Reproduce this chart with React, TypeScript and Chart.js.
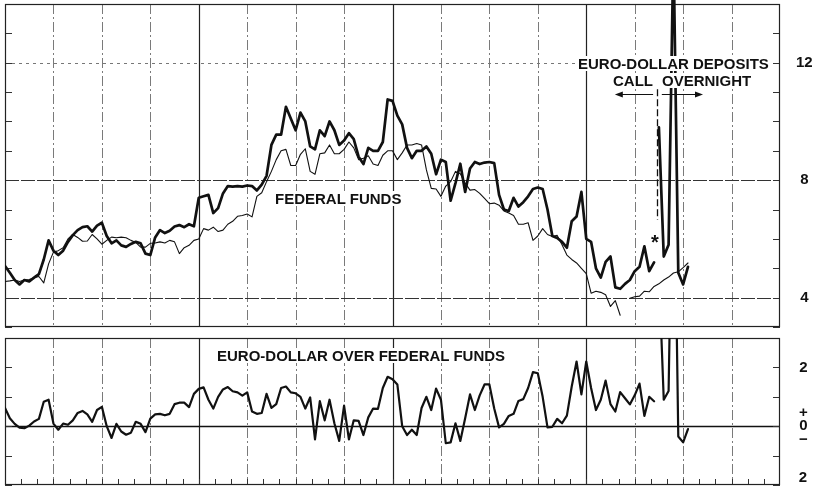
import React, { useEffect, useRef } from 'react';
import { Chart, registerables } from 'chart.js';

Chart.register(...registerables);

// ---------------- data ----------------
const MONTHS = 16;            // span of the time axis (months)
const STEP = 0.1;             // months between successive readings
const HEAVY_MONTHS = [4, 8, 12];
const TOP_MIN = 3;
const TOP_MAX = 14;
const TOP_LABELS = [4, 8, 12];
const BOTTOM_MIN = -2;
const BOTTOM_MAX = 3;
const CALL_OVERNIGHT_BREAK = 13.46; // month where call rates give way to overnight rates

// Euro-dollar deposit rate, call (percent)
const EURO_CALL = [
  5.08, 4.85, 4.6, 4.45, 4.6, 4.55, 4.68, 4.8, 5.3, 5.95,
  5.6, 5.45, 5.6, 5.9, 6.13, 6.3, 6.4, 6.43, 6.25, 6.45,
  6.55, 6.1, 5.85, 5.95, 5.78, 5.73, 5.83, 5.9, 5.85, 5.5,
  5.45, 6.05, 6.3, 6.2, 6.28, 6.42, 6.47, 6.4, 6.5, 6.43,
  7.4, 7.45, 7.5, 6.88, 7.05, 7.55, 7.8, 7.78, 7.8, 7.78,
  7.82, 7.8, 7.65, 7.85, 8.15, 9.2, 9.55, 9.55, 10.5, 10.1,
  9.7, 10.3, 10.0, 9.15, 9.05, 9.7, 9.5, 10.0, 9.7, 9.2,
  9.35, 9.6, 9.4, 8.8, 8.55, 9.1, 9.0, 9.0, 9.3, 10.75,
  10.7, 10.2, 9.9, 9.1, 8.75, 9.0, 9.0, 9.15, 8.9, 8.2,
  8.7, 8.62, 7.3, 7.9, 8.56, 7.6, 8.4, 8.62, 8.55, 8.6,
  8.62, 8.58, 7.5, 7.0, 6.95, 7.4, 7.1, 7.25, 7.45, 7.7,
  7.75, 7.7, 7.0, 6.1, 6.03, 5.9, 5.7, 6.6, 6.76, 7.6,
  6.0, 5.9, 5.0, 4.68, 5.22, 5.4, 4.35, 4.3, 4.47, 4.6,
  4.9, 5.05, 5.75, 4.9, 5.2,
];
// Euro-dollar deposit rate, overnight (percent) — follows the call series
const EURO_OVERNIGHT = [9.8, 5.4, 5.8, 16, 4.85, 4.45, 5.05];
// Federal funds rate (percent)
const FED_FUNDS: (number | null)[] = [
  4.55, 4.57, 4.6, 4.55, 4.6, 4.62, 4.68, 4.72, 4.5, 5.15,
  5.55, 5.6, 5.7, 6.0, 6.15, 6.05, 5.92, 5.93, 6.15, 6.0,
  5.82, 5.95, 6.06, 6.04, 6.06, 6.04, 5.95, 5.88, 5.72, 5.72,
  5.85, 5.86, 5.9, 5.86, 5.95, 5.9, 5.5, 5.7, 5.78, 5.95,
  6.0, 6.35, 6.3, 6.4, 6.25, 6.3, 6.5, 6.6, 6.77, 6.8,
  6.85, 6.75, 7.45, 7.57, 7.95, 8.3, 8.7, 9.0, 9.05, 8.5,
  8.5, 8.88, 9.07, 8.3, 8.2, 8.9, 8.93, 9.2, 8.9, 8.9,
  9.05, 9.3, 9.1, 8.7, 8.75, 8.83, 8.55, 8.5, 8.85, 9.0,
  9.0, 8.7, 8.93, 9.2, 9.2, 9.25, 9.2, 8.35, 7.72, 7.7,
  7.45, 7.8, 7.95, 8.3, 8.22, 7.9, 7.66, 7.68, 7.55, 7.38,
  7.2, 7.22, 7.15, 6.95, 6.88, 6.8, 6.5, 6.5, 6.55, 5.95,
  6.1, 6.35, 6.15, 6.08, 6.12, 5.8, 5.45, 5.3, 5.18, 5.0,
  4.82, 4.15, 4.22, 4.18, 4.1, 3.7, 3.9, 3.4, null, 3.98,
  4.03, 4.05, 4.22, 4.2, 4.38, 4.47, 4.6, 4.7, 4.84, 4.88,
  5.02, 5.18,
];
// Euro-dollar over federal funds (percentage points), call period
const SPREAD_CALL = [
  0.62, 0.27, 0.08, -0.05, -0.07, 0.02, 0.16, 0.25, 0.83, 0.9,
  0.09, -0.12, 0.09, 0.05, 0.2, 0.45, 0.52, 0.4, 0.15, 0.55,
  0.66, 0.0, -0.4, 0.08, -0.18, -0.29, -0.22, 0.15, 0.08, -0.2,
  0.26, 0.4, 0.42, 0.37, 0.42, 0.75, 0.8, 0.8, 0.65, 1.1,
  1.27, 1.32, 0.9, 0.6, 1.0, 1.25, 1.33, 1.19, 1.15, 1.04,
  1.15, 0.5, 0.42, 0.45, 1.1, 0.62, 0.75, 1.3, 1.35, 1.15,
  1.12, 1.0, 0.6, 0.98, -0.45, 0.85, 0.2, 0.9, 0.1, -0.5,
  0.7, -0.45, 0.2, 0.18, -0.3, 0.3, 0.6, 0.59, 1.3, 1.68,
  1.6, 1.42, 0.0, -0.3, -0.12, -0.3, 0.62, 1.0, 0.55, 1.28,
  0.9, -0.58, -0.55, 0.1, -0.5, 0.27, 1.08, 0.55, 1.05, 1.42,
  1.42, 0.6, -0.04, 0.08, 0.35, 0.42, 0.86, 0.92, 1.3, 1.84,
  1.8, 1.0, -0.04, -0.02, 0.25, 0.1, 0.36, 1.35, 2.2, 1.08,
  2.2, 1.3, 0.55, 0.9, 1.55, 0.75, 0.5, 1.16, 0.95, 0.74,
  1.05, 1.45, 0.35, 1.0, 0.85,
];
// Euro-dollar over federal funds, overnight period
const SPREAD_OVERNIGHT = [5.3, 0.9, 1.2, 11, -0.35, -0.55, -0.1];

// annotation anchors (data units)
const ARROW_Y = 10.93;
const ARROW_LEFT = 12.59;
const ARROW_RIGHT = 14.41;
const DIVIDER_TOP = 11.1;
const DIVIDER_BOTTOM = 6.65;

const FONT = '"Liberation Sans", Arial, sans-serif';
const INK = '#111';

const toPoints = (vals: (number | null)[], start = 0) =>
  vals.map((v, i) => ({ x: (start + i) * STEP, y: v }));

function seg(ctx: CanvasRenderingContext2D, x1: number, y1: number, x2: number, y2: number) {
  ctx.beginPath();
  ctx.moveTo(x1, y1);
  ctx.lineTo(x2, y2);
  ctx.stroke();
}

type Rule = { value: number; color: string; width: number; dash: number[] };

function makePaper(rules: Rule[], bottomTicks: boolean, extra?: (chart: any) => void) {
  return {
    id: 'paper',
    beforeDatasetsDraw(chart: any) {
      const { ctx, chartArea: a } = chart;
      const x = chart.scales.x;
      const y = chart.scales.y;
      ctx.save();
      for (let m = 1; m < MONTHS; m++) {
        const px = Math.round(x.getPixelForValue(m)) + 0.5;
        const heavy = HEAVY_MONTHS.includes(m);
        ctx.strokeStyle = heavy ? '#222' : '#7a7a7a';
        ctx.lineWidth = heavy ? 1.2 : 1;
        ctx.setLineDash(heavy ? [] : [10, 3, 2, 3]);
        seg(ctx, px, a.top, px, a.bottom);
      }
      for (const r of rules) {
        const py = Math.round(y.getPixelForValue(r.value)) + 0.5;
        ctx.strokeStyle = r.color;
        ctx.lineWidth = r.width;
        ctx.setLineDash(r.dash);
        seg(ctx, a.left, py, a.right, py);
      }
      ctx.setLineDash([]);
      ctx.strokeStyle = '#333';
      ctx.lineWidth = 1;
      for (let v = Math.ceil(y.min); v <= Math.floor(y.max); v++) {
        const py = Math.round(y.getPixelForValue(v)) + 0.5;
        seg(ctx, a.left, py, a.left + 7, py);
        seg(ctx, a.right - 7, py, a.right, py);
      }
      if (bottomTicks) {
        for (let t = 1; t < MONTHS * 3; t++) {
          const px = Math.round(x.getPixelForValue(t / 3)) + 0.5;
          seg(ctx, px, a.bottom, px, a.bottom - 6);
        }
      }
      ctx.strokeStyle = '#222';
      ctx.lineWidth = 1.2;
      ctx.strokeRect(a.left + 0.5, a.top + 0.5, a.width - 1, a.height - 1);
      ctx.restore();
    },
    afterDatasetsDraw(chart: any) {
      if (extra) extra(chart);
    },
  };
}

function yAxis(min: number, max: number, cb: (v: number) => any, tickLen: number) {
  return {
    type: 'linear',
    position: 'right',
    min,
    max,
    grid: { display: false, drawTicks: true, tickLength: tickLen },
    border: { display: false },
    ticks: {
      stepSize: 1,
      autoSkip: false,
      maxTicksLimit: 40,
      padding: 0,
      crossAlign: 'center',
      color: INK,
      font: { family: FONT, size: 15, weight: 'bold', lineHeight: 0.9 },
      callback: cb,
    },
    afterFit: (s: any) => {
      s.width = 44;
      s.paddingTop = 0;
      s.paddingBottom = 0;
    },
  };
}

const lineStyle = {
  borderColor: INK,
  pointRadius: 0,
  tension: 0,
  fill: false,
  spanGaps: false,
  borderJoinStyle: 'round',
  borderCapStyle: 'round',
};

function Label({ text, left, top, bg = true, size = 15 }: { text: string; left: number; top: number; bg?: boolean; size?: number }) {
  return (
    <div
      style={{
        position: 'absolute',
        left,
        top,
        font: `bold ${size}px ${FONT}`,
        lineHeight: `${size}px`,
        whiteSpace: 'nowrap',
        color: INK,
        background: bg ? '#fff' : 'transparent',
        padding: bg ? '0 2px' : 0,
      }}
    >
      {text}
    </div>
  );
}

export default function App() {
  const topRef = useRef<HTMLCanvasElement>(null);
  const botRef = useRef<HTMLCanvasElement>(null);

  useEffect(() => {
    const start = EURO_CALL.length;

    const topExtra = (chart: any) => {
      const { ctx } = chart;
      const x = chart.scales.x;
      const y = chart.scales.y;
      ctx.save();
      ctx.strokeStyle = INK;
      ctx.fillStyle = INK;
      const dx = Math.round(x.getPixelForValue(CALL_OVERNIGHT_BREAK)) + 0.5;
      ctx.lineWidth = 1.3;
      ctx.setLineDash([7, 3]);
      seg(ctx, dx, y.getPixelForValue(DIVIDER_TOP), dx, y.getPixelForValue(DIVIDER_BOTTOM));
      ctx.setLineDash([]);
      const ay = Math.round(y.getPixelForValue(ARROW_Y)) + 0.5;
      const l1 = x.getPixelForValue(ARROW_LEFT);
      const l2 = x.getPixelForValue(CALL_OVERNIGHT_BREAK - 0.08);
      const r1 = x.getPixelForValue(CALL_OVERNIGHT_BREAK + 0.1);
      const r2 = x.getPixelForValue(ARROW_RIGHT);
      ctx.lineWidth = 1.2;
      seg(ctx, l1 + 4, ay, l2, ay);
      seg(ctx, r1, ay, r2 - 4, ay);
      ctx.beginPath();
      ctx.moveTo(l1, ay);
      ctx.lineTo(l1 + 8, ay - 3);
      ctx.lineTo(l1 + 8, ay + 3);
      ctx.closePath();
      ctx.fill();
      ctx.beginPath();
      ctx.moveTo(r2, ay);
      ctx.lineTo(r2 - 8, ay - 3);
      ctx.lineTo(r2 - 8, ay + 3);
      ctx.closePath();
      ctx.fill();
      ctx.restore();
    };

    const top = new Chart(topRef.current as HTMLCanvasElement, {
      type: 'line',
      data: {
        datasets: [
          { ...lineStyle, label: 'Federal funds', data: toPoints(FED_FUNDS), borderWidth: 1.1 },
          { ...lineStyle, label: 'Euro-dollar call', data: toPoints(EURO_CALL), borderWidth: 2.7 },
          {
            ...lineStyle,
            label: 'Euro-dollar overnight',
            data: toPoints(EURO_OVERNIGHT, start),
            borderWidth: 2.7,
            clip: { left: 0, right: 0, bottom: 0, top: 6 },
          },
        ],
      } as any,
      options: {
        animation: false,
        responsive: false,
        events: [],
        layout: { padding: { left: 5, top: 4, right: 0, bottom: 5 } },
        plugins: { legend: { display: false }, tooltip: { enabled: false } },
        scales: {
          x: { type: 'linear', min: 0, max: MONTHS, display: false },
          y: yAxis(TOP_MIN, TOP_MAX, (v: number) => (TOP_LABELS.includes(Math.round(v)) ? String(Math.round(v)) : null), 16),
        },
      } as any,
      plugins: [
        makePaper(
          [
            { value: 4, color: '#333', width: 1, dash: [14, 2] },
            { value: 8, color: '#333', width: 1, dash: [14, 2] },
            { value: 12, color: '#777', width: 1, dash: [3, 4] },
          ],
          false,
          topExtra,
        ),
      ] as any,
    });

    const botExtra = (chart: any) => {
      const { ctx, chartArea: a } = chart;
      const y = chart.scales.y;
      ctx.save();
      ctx.fillStyle = INK;
      ctx.font = `bold 15px ${FONT}`;
      ctx.textAlign = 'center';
      ctx.textBaseline = 'middle';
      const py = Math.min(y.getPixelForValue(BOTTOM_MIN), a.bottom - 7);
      ctx.fillText(String(Math.abs(BOTTOM_MIN)), a.right + 23, py);
      ctx.restore();
    };

    const bot = new Chart(botRef.current as HTMLCanvasElement, {
      type: 'line',
      data: {
        datasets: [
          { ...lineStyle, label: 'Spread call', data: toPoints(SPREAD_CALL), borderWidth: 2.2 },
          { ...lineStyle, label: 'Spread overnight', data: toPoints(SPREAD_OVERNIGHT, start), borderWidth: 2.2 },
        ],
      } as any,
      options: {
        animation: false,
        responsive: false,
        events: [],
        layout: { padding: { left: 5, top: 6, right: 0, bottom: 1 } },
        plugins: { legend: { display: false }, tooltip: { enabled: false } },
        scales: {
          x: { type: 'linear', min: 0, max: MONTHS, display: false },
          y: yAxis(
            BOTTOM_MIN,
            BOTTOM_MAX,
            (v: number) => {
              const r = Math.round(v);
              if (r === 2) return '2';
              if (r === 0) return ['+', '0', '\u2212'];
              return null;
            },
            19,
          ),
        },
      } as any,
      plugins: [
        makePaper([{ value: 0, color: '#111', width: 1.6, dash: [] }], true, botExtra),
      ] as any,
    });

    return () => {
      top.destroy();
      bot.destroy();
    };
  }, []);

  return (
    <div
      style={{
        position: 'fixed',
        left: 0,
        top: 0,
        width: 824,
        height: 486,
        background: '#fff',
        overflow: 'hidden',
      }}
    >
      <canvas ref={topRef} width={824} height={332} style={{ position: 'absolute', left: 0, top: 0 }} />
      <canvas ref={botRef} width={824} height={154} style={{ position: 'absolute', left: 0, top: 332 }} />
      <Label text="EURO-DOLLAR DEPOSITS" left={576} top={56} />
      <Label text="CALL" left={611} top={73} />
      <Label text="OVERNIGHT" left={660} top={73} />
      <Label text="FEDERAL FUNDS" left={273} top={191} />
      <Label text="EURO-DOLLAR OVER FEDERAL FUNDS" left={215} top={348} />
      <Label text="*" left={651} top={232} bg={false} size={20} />
    </div>
  );
}
